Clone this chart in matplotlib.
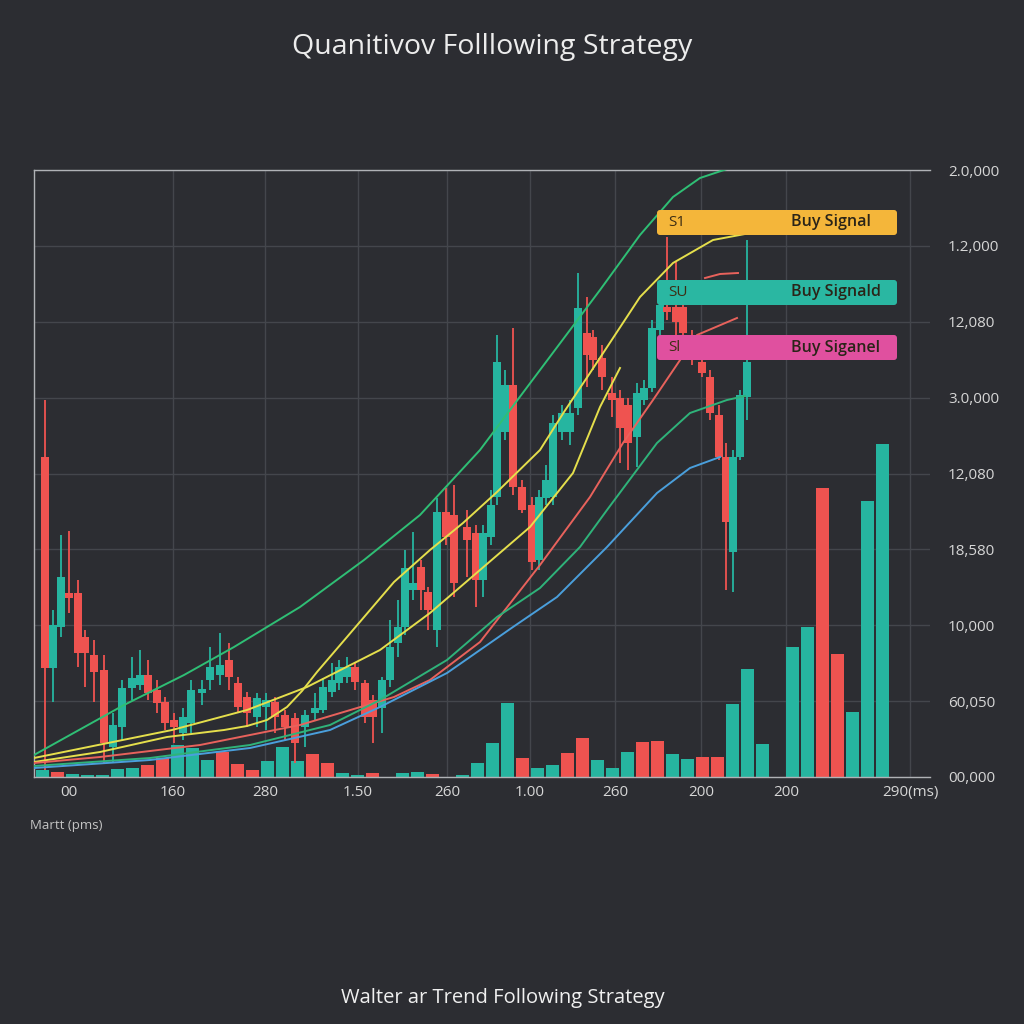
import numpy as np
import matplotlib
matplotlib.use("Agg")
import matplotlib.pyplot as plt
from matplotlib.patches import FancyBboxPatch

plt.rcParams["font.family"] = ["Open Sans", "DejaVu Sans"]

BG = "#2c2d32"
TEAL = "#26b5a0"
RED = "#ef5350"

# candles: time, open, high, low, close
cd_t = [11, 19, 27, 35, 44, 51, 60, 70, 79, 88, 98, 106, 114, 123, 131, 140, 149, 157, 168, 176,
        186, 195, 204, 213, 223, 232, 241, 251, 261, 271, 281, 289, 298, 305, 313, 321, 331, 339, 348, 356,
        364, 371, 379, 387, 394, 403, 412, 420, 433, 442, 449, 457, 463, 471, 479, 488, 498, 505, 512, 519,
        528, 536, 544, 553, 559, 568, 578, 586, 594, 603, 610, 618, 626, 633, 642, 649, 658, 668, 676, 685,
        692, 699, 706, 713]
cd_o = [320, 109, 150, 184, 184, 140, 122, 107, 30, 50, 89, 92, 102, 87, 75, 57, 44, 54, 84, 97,
        102, 117, 94, 80, 60, 70, 75, 62, 59, 50, 64, 67, 85, 94, 100, 110, 94, 77, 69, 97,
        134, 150, 187, 210, 185, 147, 265, 262, 250, 244, 197, 240, 280, 345, 392, 290, 272, 217, 279, 280,
        345, 345, 369, 444, 440, 419, 384, 379, 372, 340, 377, 389, 447, 470, 470, 470, 437, 415, 400, 362,
        320, 225, 320, 380]
cd_h = [377, 167, 242, 246, 197, 147, 137, 122, 64, 97, 120, 127, 117, 97, 80, 64, 69, 97, 97, 130,
        144, 134, 100, 85, 84, 84, 80, 67, 64, 67, 84, 99, 114, 117, 120, 115, 97, 82, 100, 157,
        177, 227, 245, 217, 190, 279, 289, 292, 267, 252, 252, 287, 442, 407, 449, 297, 280, 287, 312, 362,
        372, 377, 504, 480, 447, 432, 400, 387, 379, 394, 397, 457, 487, 540, 515, 477, 447, 422, 407, 372,
        334, 327, 387, 537]
cd_l = [7, 75, 140, 164, 110, 90, 75, 14, 14, 37, 77, 87, 77, 64, 47, 34, 37, 44, 72, 87,
        92, 87, 64, 50, 50, 47, 44, 37, 14, 30, 57, 64, 80, 87, 94, 87, 54, 34, 44, 90,
        120, 142, 177, 167, 147, 130, 232, 180, 200, 170, 180, 232, 272, 337, 282, 264, 207, 207, 272, 272,
        337, 332, 362, 390, 407, 387, 360, 314, 307, 310, 372, 385, 442, 457, 442, 437, 412, 400, 357, 317,
        187, 185, 317, 357]
cd_c = [109, 152, 200, 179, 124, 124, 105, 34, 52, 89, 99, 102, 84, 74, 54, 50, 60, 87, 88, 110,
        112, 100, 70, 64, 79, 77, 60, 50, 34, 62, 69, 90, 97, 110, 110, 95, 60, 60, 97, 130,
        150, 209, 194, 187, 167, 265, 240, 194, 237, 197, 244, 272, 415, 392, 290, 267, 215, 280, 297, 354,
        364, 364, 469, 422, 417, 400, 377, 349, 334, 384, 389, 449, 472, 465, 455, 444, 417, 404, 364, 320,
        255, 320, 382, 415]

# volume bars (r = red, t = teal)
volume = [7, 5, 3, 2, 2, 8, 9, 12, 19, 32, 29, 17, 25, 13, 7, 16, 30, 16, 23, 14,
          4, 2, 4, 0, 4, 5, 3, 0, 2, 14, 34, 74, 19, 9, 12, 24, 39, 17, 9, 25,
          35, 36, 23, 18, 20, 20, 73, 108, 33, 0, 130, 150, 289, 123, 65, 276, 333]
vol_side = "trtttttrrtttrrrtttrrttrtttrtttttrttrrtttrrttrrttttttrrtttt"

# moving-average curves (time, value)
ma_g1_t = [0, 90, 150, 200, 266, 330, 386, 446, 506, 566, 606, 639, 666, 693, 706]
ma_g1_v = [22, 72, 102, 130, 170, 217, 262, 327, 407, 487, 542, 580, 599, 608, 609]
ma_y1_t = [0, 66, 133, 190, 213, 233, 253, 268, 283, 313, 360, 396, 429, 463, 506, 530, 556, 606, 639, 679, 711]
ma_y1_v = [15, 25, 40, 47, 51, 57, 70, 86, 105, 140, 195, 227, 254, 285, 327, 365, 404, 480, 514, 537, 543]
ma_y2_t = [0, 138, 213, 273, 346, 396, 446, 496, 539, 566, 586]
ma_y2_v = [19, 47, 67, 90, 127, 164, 207, 250, 304, 370, 409]
ma_r_t = [0, 66, 166, 266, 360, 396, 446, 506, 556, 589, 619, 663, 703]
ma_r_v = [14, 20, 32, 52, 80, 97, 135, 212, 280, 334, 377, 442, 459]
ma_r2_t = [671, 686, 704]
ma_r2_v = [499, 503, 504]
ma_g2_t = [0, 116, 216, 296, 346, 413, 463, 506, 546, 573, 623, 656, 693, 711]
ma_g2_v = [11, 19, 32, 52, 77, 117, 160, 189, 230, 267, 334, 364, 377, 381]
ma_b_t = [0, 116, 216, 296, 346, 413, 479, 523, 573, 623, 656, 686]
ma_b_v = [9, 17, 29, 47, 70, 104, 150, 180, 230, 284, 309, 320]

x_labels = ["00", "160", "280", "1.50", "260", "1.00", "260", "200", "200", "290(ms)"]
y_labels = ["00,000", "60,050", "10,000", "18,580", "12,080", "3.0,000", "12,080", "1.2,000", "2.0,000"]

signals = [("S1", "Buy Signal", "#f4b63a", 542),
           ("SU", "Buy Signald", "#2ab7a2", 472),
           ("Sl", "Buy Siganel", "#e0509f", 417)]

fig = plt.figure(figsize=(10.24, 10.24), dpi=100, facecolor=BG)
ax = fig.add_axes([34 / 1024, 247 / 1024, 896 / 1024, 607 / 1024], facecolor=BG)
ax.set_xlim(0, 896)
ax.set_ylim(0, 607)

# grid
xt = [35, 139, 231, 324, 413, 496, 581, 667, 752, 876]
for gx in xt[1:]:
    ax.axvline(gx, color="#44464c", lw=1.0, zorder=0)
ax.set_yticks(np.linspace(0, 607, 9))
ax.yaxis.grid(True, color="#44464c", lw=1.0, zorder=0)
ax.set_axisbelow(True)

# volume
vx = 8 + 15 * np.arange(len(volume))
vcol = [RED if s == "r" else TEAL for s in vol_side]
ax.bar(vx, volume, width=13, color=vcol, zorder=2)

# candles
o = np.array(cd_o); c = np.array(cd_c)
ccol = [TEAL if cc >= oo else RED for oo, cc in zip(o, c)]
ax.vlines(cd_t, cd_l, cd_h, colors=ccol, lw=1.3, zorder=3)
ax.bar(cd_t, np.maximum(np.abs(c - o), 3), bottom=np.minimum(o, c), width=8, color=ccol, zorder=3)

# moving averages
ax.plot(ma_g1_t, ma_g1_v, color="#2fbf75", lw=1.4, zorder=4)
ax.plot(ma_y1_t, ma_y1_v, color="#e5df4c", lw=1.4, zorder=4)
ax.plot(ma_y2_t, ma_y2_v, color="#e5df4c", lw=1.4, zorder=4)
ax.plot(ma_r_t, ma_r_v, color="#e8625c", lw=1.4, zorder=4)
ax.plot(ma_r2_t, ma_r2_v, color="#e8625c", lw=1.4, zorder=4)
ax.plot(ma_g2_t, ma_g2_v, color="#2fb37a", lw=1.4, zorder=4)
ax.plot(ma_b_t, ma_b_v, color="#4a9fdc", lw=1.4, zorder=4)

# signal boxes
for tag, txt, col, yb in signals:
    ax.add_patch(FancyBboxPatch((623, yb), 240, 25, boxstyle="round,pad=0,rounding_size=3",
                                fc=col, ec="none", zorder=6))
    ax.text(634, yb + 12.5, tag, color="#3d2e14", fontsize=11, va="center", ha="left", zorder=7)
    ax.text(757, yb + 12.5, txt, color="#2a2418", fontsize=11.5, va="center", ha="left",
            fontweight="semibold", zorder=7)

# axes styling
ax.set_xticks(xt)
ax.set_xticklabels(x_labels)
ax.yaxis.tick_right()
ax.set_yticklabels(y_labels)
ax.tick_params(axis="x", length=0, pad=6, labelsize=11, labelcolor="#d6d6d6")
ax.tick_params(axis="y", length=0, pad=13, labelsize=11, labelcolor="#d6d6d6")
for s in ["left", "top", "bottom"]:
    ax.spines[s].set_color("#b0b2b6")
    ax.spines[s].set_linewidth(1.0)
ax.spines["right"].set_visible(False)

fig.text(492 / 1024, 1 - 47 / 1024, "Quanitivov Folllowing Strategy", ha="center", va="center",
         fontsize=20.5, color="#ececec")
fig.text(503 / 1024, 1 - 998 / 1024, "Walter ar Trend Following Strategy", ha="center", va="center",
         fontsize=14.5, color="#f0f0f0")
fig.text(30 / 1024, 1 - 825 / 1024, "Martt (pms)", ha="left", va="center", fontsize=9.5, color="#c4c4c4")

fig.savefig("out.png", dpi=100, facecolor=BG)
